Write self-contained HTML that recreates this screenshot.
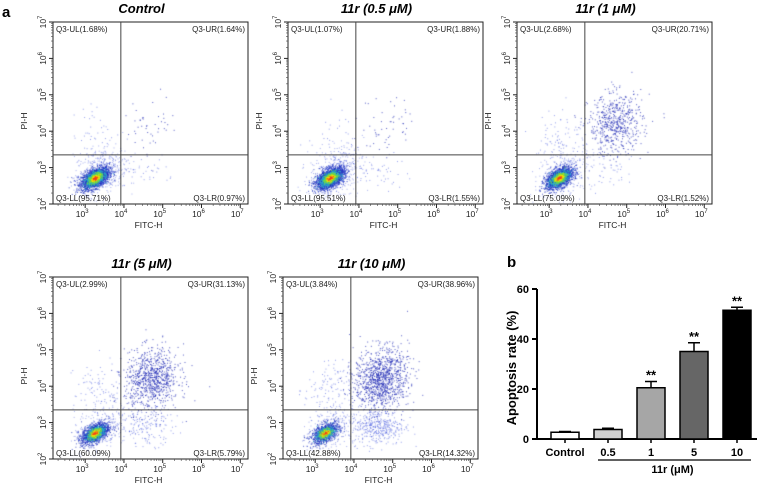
<!DOCTYPE html>
<html><head><meta charset="utf-8">
<style>
body{margin:0;background:#fff;width:766px;height:485px;overflow:hidden;font-family:"Liberation Sans",Arial,sans-serif;}
svg{position:absolute;left:0;top:0}
canvas{position:absolute;left:0;top:0}
</style></head>
<body>
<canvas id="cv" width="766" height="485"></canvas>
<svg id="sv" width="766" height="485"></svg>
<script>
// ---- flow panels data ----
const panelTitles=["Control","11r (0.5 μM)","11r (1 μM)","11r (5 μM)","11r (10 μM)"];
const ulVals=[1.68,1.07,2.68,2.99,3.84];
const urVals=[1.64,1.88,20.71,31.13,38.96];
const llVals=[95.71,95.51,75.09,60.09,42.88];
const lrVals=[0.97,1.55,1.52,5.79,14.32];
// ---- bar chart data ----
const barCats=["Control","0.5","1","5","10"];
const barVals=[2.7,3.8,20.5,35,51.5];
const barErr=[0.3,0.5,2.5,3.5,1.2];
const barSig=["","","**","**","**"];
const barFill=["#ffffff","#d0d0d0","#a6a6a6","#666666","#000000"];
const yTicks=[0,20,40,60];

const NS="http://www.w3.org/2000/svg";
const sv=document.getElementById('sv');
const ctx=document.getElementById('cv').getContext('2d');
function el(tag,attrs,parent,text){const e=document.createElementNS(NS,tag);for(const k in attrs)e.setAttribute(k,attrs[k]);if(text!==undefined)e.textContent=text;(parent||sv).appendChild(e);return e;}

// deterministic texture generator for dot clouds
let seed=12345;
function rnd(){seed=(seed*1103515245+12345)&0x7fffffff;return seed/0x7fffffff;}
function gauss(){let u=rnd()||1e-6,v=rnd();return Math.sqrt(-2*Math.log(u))*Math.cos(2*Math.PI*v);}

const W=195,H=182,XMIN=2.17,XMAX=7.2;
const positions=[[53,22],[288,22],[517,22],[53,277],[283,277]];
const gx=3.92,gy=3.35;

positions.forEach((p,i)=>{
  const [L,T]=p;
  const g=el('g',{},sv);
  
  
  const sx=v=>L+(v-XMIN)/(XMAX-XMIN)*W;
  const sy=v=>T+H-(v-2)/5*H;
  const t=el('text',{x:L+W/2-9,y:T-9,'font-size':13,'font-weight':'bold','font-style':'italic','text-anchor':'middle'},g,panelTitles[i]);
  
  
  const total=2800;
  function cloud(n,cx,cy,sdx,sdy,rho,col){
    ctx.fillStyle=col;
    for(let k=0;k<n;k++){
      const a=gauss(),b=gauss();
      const x=cx+sdx*a, y=cy+sdy*(rho*a+Math.sqrt(1-rho*rho)*b);
      const px=sx(x),py=sy(y);
      if(px<L+1||px>L+W-1||py<T+1||py>T+H-1)continue;
      ctx.fillRect(px,py,1,1);
    }
  }
  const ll=llVals[i]/100*total, ur=urVals[i]/100*total, ul=ulVals[i]/100*total, lr=lrVals[i]/100*total;
  cloud(ll*0.75,3.25,2.72,0.18,0.15,0.5,'rgba(30,50,190,0.75)');
  cloud(ll*0.15,3.4,2.9,0.35,0.35,0.3,'rgba(60,80,220,0.45)');
  cloud(ur,4.7,4.2,0.35,0.42,0.1,'rgba(30,40,180,0.75)');
  cloud(ul,3.3,3.9,0.3,0.4,0,'rgba(60,80,220,0.55)');
  cloud(lr,4.6,2.9,0.35,0.25,0,'rgba(60,80,220,0.55)');
  cloud(ll*0.3,3.25,2.72,0.11,0.09,0.5,'rgba(40,180,200,0.8)');
  cloud(ll*0.15,3.25,2.72,0.075,0.065,0.5,'rgba(120,220,60,0.9)');
  cloud(ll*0.05,3.25,2.72,0.05,0.04,0.5,'rgba(250,220,0,0.95)');
  cloud(ll*0.012,3.25,2.72,0.03,0.025,0.5,'rgba(240,60,30,0.95)');
  const fr=el('rect',{x:L,y:T,width:W,height:H,fill:'none',stroke:'#222','stroke-width':1},g);
  
  
  const vg=el('line',{x1:sx(gx),x2:sx(gx),y1:T,y2:T+H,stroke:'#444','stroke-width':1},g);
  
  
  const hg=el('line',{x1:L,x2:L+W,y1:sy(gy),y2:sy(gy),stroke:'#444','stroke-width':1},g);
  
  
  const fs=8;
  const q1=el('text',{x:L+3,y:T+10,'font-size':fs,fill:'#222'},g,'Q3-UL('+ulVals[i].toFixed(2)+'%)');
  
  const q2=el('text',{x:L+W-3,y:T+10,'font-size':fs,fill:'#222','text-anchor':'end'},g,'Q3-UR('+urVals[i].toFixed(2)+'%)');
  
  const q3=el('text',{x:L+3,y:T+H-3,'font-size':fs,fill:'#222'},g,'Q3-LL('+llVals[i].toFixed(2)+'%)');
  
  const q4=el('text',{x:L+W-3,y:T+H-3,'font-size':fs,fill:'#222','text-anchor':'end'},g,'Q3-LR('+lrVals[i].toFixed(2)+'%)');
  
  for(let d=3;d<=7;d++){
    const x=sx(d);
    el('line',{x1:x,x2:x,y1:T+H,y2:T+H+4,stroke:'#222'},g);
    for(let m=2;m<10;m++){const xm=sx(d-1+Math.log10(m));if(xm>L)el('line',{x1:xm,x2:xm,y1:T+H,y2:T+H+2,stroke:'#444','stroke-width':0.6},g);}
    const tx=el('text',{x:x-3,y:T+H+13,'font-size':8.5,'text-anchor':'middle',fill:'#222'},g);
    
    el('tspan',{},tx,'10');el('tspan',{dy:-4,'font-size':6},tx,String(d));
  }
  const xt=el('text',{x:L+W/2-2,y:T+H+24,'font-size':8.5,'text-anchor':'middle',fill:'#222'},g,'FITC-H');
  
  for(let d=2;d<=7;d++){
    const y=sy(d);
    el('line',{x1:L-4,x2:L,y1:y,y2:y,stroke:'#222'},g);
    if(d<7)for(let m=2;m<10;m++){const ym=sy(d+Math.log10(m));el('line',{x1:L-2,x2:L,y1:ym,y2:ym,stroke:'#444','stroke-width':0.6},g);}
    const ty=el('text',{transform:`translate(${L-7},${y}) rotate(-90)`,'font-size':8.5,'text-anchor':'middle',fill:'#222'},g);
    
    el('tspan',{},ty,'10');el('tspan',{dy:-4,'font-size':6},ty,String(d));
  }
  const yt=el('text',{transform:`translate(${L-26},${T+H/2+8}) rotate(-90)`,'font-size':8.5,'text-anchor':'middle',fill:'#222'},g,'PI-H');
  
});

const la=el('text',{x:2,y:17,'font-size':15,'font-weight':'bold'},sv,'a');

const lb=el('text',{x:507,y:267,'font-size':15,'font-weight':'bold'},sv,'b');


// ---- bar chart ----
const bg=el('g',{},sv);


const AX=537,Y0=439,YTOP=289,YMAX=60;
const by=v=>Y0-v/YMAX*(Y0-YTOP);
const bx=i=>565+i*43;
const BW=28;
el('line',{x1:AX,x2:AX,y1:YTOP,y2:Y0,stroke:'#000','stroke-width':2},bg);
el('line',{x1:AX,x2:757,y1:Y0,y2:Y0,stroke:'#000','stroke-width':2},bg);
yTicks.forEach(v=>{
  el('line',{x1:AX-5,x2:AX,y1:by(v),y2:by(v),stroke:'#000','stroke-width':2},bg);
  const t=el('text',{x:AX-8,y:by(v)+4,'font-size':11,'font-weight':'bold','text-anchor':'end'},bg,String(v));
  
});
const yat=el('text',{transform:`translate(516,${(Y0+YTOP)/2+4}) rotate(-90)`,'font-size':13,'font-weight':'bold','text-anchor':'middle'},bg,'Apoptosis rate (%)');

barVals.forEach((v,i)=>{
  const cx=bx(i);
  const e=barErr[i];
  el('line',{x1:cx,x2:cx,y1:by(v),y2:by(v+e),stroke:'#000','stroke-width':1.5},bg);
  el('line',{x1:cx-6,x2:cx+6,y1:by(v+e),y2:by(v+e),stroke:'#000','stroke-width':1.5},bg);
  const r=el('rect',{x:cx-BW/2,y:by(v),width:BW,height:Y0-by(v),fill:barFill[i],stroke:'#000','stroke-width':1.5},bg);
  
  
  el('line',{x1:cx,x2:cx,y1:Y0,y2:Y0+4,stroke:'#000','stroke-width':1.5},bg);
  if(barSig[i]){const s=el('text',{x:cx,y:by(v+e)-2,'font-size':13,'font-weight':'bold','text-anchor':'middle'},bg,barSig[i]);
    }
  const tl=el('text',{x:cx,y:Y0+17,'font-size':11,'font-weight':'bold','text-anchor':'middle'},bg,barCats[i]);
  
});
el('line',{x1:bx(1)-10,x2:bx(4)+14,y1:Y0+21,y2:Y0+21,stroke:'#000','stroke-width':1.2},bg);
const xg=el('text',{x:(bx(1)+bx(4))/2,y:Y0+34,'font-size':11,'font-weight':'bold','text-anchor':'middle'},bg,'11r (μM)');

</script>
</body></html>
